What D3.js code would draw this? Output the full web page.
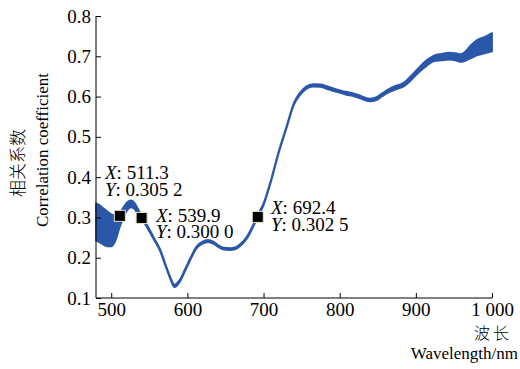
<!DOCTYPE html>
<html>
<head>
<meta charset="utf-8">
<script src="https://cdn.jsdelivr.net/npm/d3@7"></script>
<style>
  body { margin: 0; background: #fff; }
  text { font-family: "Liberation Serif", "Times New Roman", serif; fill: #000; }
</style>
</head>
<body>
<svg width="520" height="369"></svg>
<script>
    // wavelength (nm) and the upper / lower edge of the correlation band
    wl    = [480, 485, 490, 495, 500, 505, 511, 516, 521, 526, 531, 536, 540, 548, 556, 564, 572, 578, 583, 590,
             597, 604, 612, 620, 627, 634, 640, 648, 656, 663, 670, 678, 686, 692, 700, 710, 720, 730, 740, 748,
             756, 765, 775, 786, 797, 808, 820, 830, 840, 848, 856, 864, 874, 884, 894, 904, 914, 924, 934, 944,
             952, 958, 964, 972, 980, 990, 1000];
    upper = [0.335, 0.330, 0.322, 0.315, 0.308, 0.305, 0.310, 0.325, 0.338, 0.342, 0.335, 0.318, 0.303, 0.278, 0.250, 0.222, 0.180, 0.150, 0.133, 0.145,
             0.172, 0.200, 0.228, 0.240, 0.244, 0.240, 0.232, 0.225, 0.224, 0.226, 0.235, 0.252, 0.280, 0.305, 0.335, 0.395, 0.465, 0.525, 0.585, 0.610,
             0.625, 0.631, 0.630, 0.624, 0.617, 0.612, 0.607, 0.600, 0.595, 0.598, 0.608, 0.618, 0.627, 0.634, 0.652, 0.672, 0.690, 0.702, 0.706, 0.709,
             0.708, 0.705, 0.710, 0.727, 0.740, 0.748, 0.758];
    lower = [0.243, 0.238, 0.232, 0.228, 0.228, 0.240, 0.275, 0.300, 0.318, 0.325, 0.320, 0.305, 0.296, 0.272, 0.245, 0.217, 0.175, 0.145, 0.127, 0.140,
             0.167, 0.195, 0.223, 0.235, 0.239, 0.235, 0.227, 0.220, 0.219, 0.221, 0.230, 0.247, 0.275, 0.300, 0.330, 0.390, 0.460, 0.520, 0.580, 0.604,
             0.619, 0.625, 0.624, 0.617, 0.611, 0.605, 0.600, 0.593, 0.588, 0.591, 0.601, 0.610, 0.618, 0.625, 0.641, 0.660, 0.676, 0.688, 0.690, 0.692,
             0.690, 0.686, 0.688, 0.695, 0.702, 0.707, 0.712];

    // data cursor markers
    markX = [511.3, 539.9, 692.4];
    markY = [0.3052, 0.3000, 0.3025];
    markXText = ["511.3", "539.9", "692.4"];
    markYText = ["0.305 2", "0.300 0", "0.302 5"];

    xticks = [500, 600, 700, 800, 900, 1000];
    xtickText = ["500", "600", "700", "800", "900", "1 000"];
    yticks = [0.1, 0.2, 0.3, 0.4, 0.5, 0.6, 0.7, 0.8];

    svg = d3.select("svg");
    xs = d3.scaleLinear().domain([480, 1000]).range([96, 492]);
    ys = d3.scaleLinear().domain([0.1, 0.8]).range([298, 16]);

    //draw the band
    band = wl.map(function(d, i){ return [d, upper[i], lower[i]]; });
    svg.append("path")
    .datum(band)
    .attr("fill", "#2a57a8")
    .attr("stroke", "#2a57a8")
    .attr("stroke-width", 1.8)
    .attr("stroke-linejoin", "round")
    .attr("d", d3.area().curve(d3.curveMonotoneX)
        .x(function(d){ return xs(d[0]); })
        .y0(function(d){ return ys(d[2]); })
        .y1(function(d){ return ys(d[1]); }));

    //draw the y axis
    svg.append("g")
    .attr("transform", "translate(96,0)")
    .call(d3.axisLeft(ys).tickValues(yticks).tickSize(-5).tickPadding(5).tickFormat(d3.format(".1f")))
    .attr("font-size", 19)
    .attr("font-family", null)
    .call(function(g){ g.select(".domain").attr("d", "M0,16V298"); });

    //draw the x axis
    svg.append("g")
    .attr("transform", "translate(0,298)")
    .call(d3.axisBottom(xs).tickValues(xticks).tickSize(-5).tickPadding(5).tickFormat(function(d, i){ return xtickText[i]; }))
    .attr("font-size", 19)
    .attr("font-family", null)
    .call(function(g){ g.select(".domain").attr("d", "M96,0H492"); });

    svg.selectAll(".tick text").attr("fill", "#000");
    svg.selectAll(".tick line").attr("stroke", "#000");

    //axis titles
    svg.append("text").attr("x", 512).attr("y", 339).attr("text-anchor", "end")
    .attr("font-size", 16).style("font-family", "'Noto Sans CJK SC'").style("font-weight", 300)
    .attr("letter-spacing", 3).text("波长");
    svg.append("text").attr("x", 518).attr("y", 359).attr("text-anchor", "end")
    .attr("font-size", 17).text("Wavelength/nm");
    svg.append("text").attr("transform", "translate(24,163) rotate(-90)").attr("text-anchor", "middle")
    .attr("font-size", 17).style("font-family", "'Noto Sans CJK SC'").style("font-weight", 300).text("相关系数");
    svg.append("text").attr("transform", "translate(48,150) rotate(-90)").attr("text-anchor", "middle")
    .attr("font-size", 17).text("Correlation coefficient");

    //markers
    svg.selectAll("rect.mark").data(markX).enter().append("rect")
    .attr("x", function(d){ return xs(d) - 5.5; })
    .attr("y", function(d, i){ return ys(markY[i]) - 5; })
    .attr("width", 11).attr("height", 11)
    .attr("fill", "#000").attr("stroke", "#e8e4c0").attr("stroke-width", 1);

    //marker labels
    labelPos = [[105, 179, 196], [156, 222, 238], [271, 214, 231]];
    labelPos.forEach(function(p, i){
        t = svg.append("text").attr("x", p[0]).attr("y", p[1]).attr("font-size", 19)
            .style("font-family", "'Liberation Serif', serif");
        t.append("tspan").attr("font-style", "italic").text("X");
        t.append("tspan").text(": " + markXText[i]);
        t2 = svg.append("text").attr("x", p[0]).attr("y", p[2]).attr("font-size", 19)
            .style("font-family", "'Liberation Serif', serif");
        t2.append("tspan").attr("font-style", "italic").text("Y");
        t2.append("tspan").text(": " + markYText[i]);
    });
</script>
</body>
</html>
